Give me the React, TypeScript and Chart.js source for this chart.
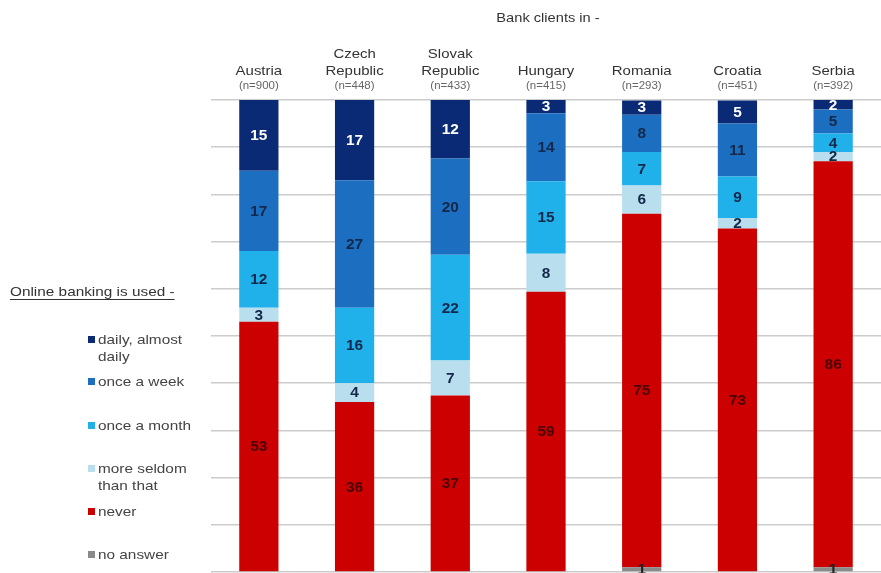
import React, { useEffect, useRef } from "react";
import { Chart, registerables } from "chart.js";

Chart.register(...registerables);

const countries = [["Austria"], ["Czech", "Republic"], ["Slovak", "Republic"], ["Hungary"], ["Romania"], ["Croatia"], ["Serbia"]];
const sampleSizes = ["(n=900)", "(n=448)", "(n=433)", "(n=415)", "(n=293)", "(n=451)", "(n=392)"];

const noAnswer = [0, 0, 0, 0, 1, 0, 1];
const never = [53, 36, 37.4, 59.4, 74.9, 72.8, 86];
const moreSeldom = [3, 4, 7.4, 8, 6, 2.2, 2];
const onceMonth = [12, 16, 22.4, 15.4, 7.1, 8.8, 3.9];
const onceWeek = [17, 27, 20.4, 14.4, 7.9, 11.2, 5.1];
const daily = [15, 17, 12.4, 2.8, 3, 4.9, 2];

const legendLabels = [["daily, almost", "daily"], ["once a week"], ["once a month"], ["more seldom", "than that"], ["never"], ["no answer"]];
const yTicks = [0, 10, 20, 30, 40, 50, 60, 70, 80, 90, 100];

const COLORS = {
  daily: "#0b2a76",
  week: "#1b6ec0",
  month: "#20b0ea",
  seldom: "#b9dfee",
  never: "#cc0000",
  na: "#8a8a8a",
};

const FONT = "'Liberation Sans', Arial, sans-serif";

function stretchText(ctx: CanvasRenderingContext2D, text: string, x: number, y: number, sx: number) {
  ctx.save();
  ctx.translate(x, y);
  ctx.scale(sx, 1);
  ctx.fillText(text, 0, 0);
  ctx.restore();
}

export default function App() {
  const ref = useRef<HTMLCanvasElement | null>(null);

  useEffect(() => {
    document.body.style.margin = "0";
    const canvas = ref.current;
    if (!canvas) return;

    const datasets = [
      { label: "no answer", data: noAnswer, backgroundColor: COLORS.na, textColor: "#222222" },
      { label: "never", data: never, backgroundColor: COLORS.never, textColor: "#4a0000" },
      { label: "more seldom than that", data: moreSeldom, backgroundColor: COLORS.seldom, textColor: "#13284a" },
      { label: "once a month", data: onceMonth, backgroundColor: COLORS.month, textColor: "#13284a" },
      { label: "once a week", data: onceWeek, backgroundColor: COLORS.week, textColor: "#13284a" },
      { label: "daily, almost daily", data: daily, backgroundColor: COLORS.daily, textColor: "#ffffff" },
    ];

    const legendColors = [COLORS.daily, COLORS.week, COLORS.month, COLORS.seldom, COLORS.never, COLORS.na];
    const legendY = [340, 382, 426, 469, 512, 555];

    const overlay = {
      id: "overlay",
      afterDatasetsDraw(chart: any) {
        const ctx = chart.ctx;
        ctx.save();
        // data labels
        ctx.font = `bold 14px ${FONT}`;
        ctx.textAlign = "center";
        ctx.textBaseline = "middle";
        chart.data.datasets.forEach((ds: any, di: number) => {
          const meta = chart.getDatasetMeta(di);
          meta.data.forEach((el: any, i: number) => {
            const v = Math.round(ds.data[i]);
            if (!v) return;
            const y = (el.y + el.base) / 2;
            ctx.fillStyle = ds.textColor;
            stretchText(ctx, String(v), el.x, y + 1, 1.1);
          });
        });

        // header
        ctx.fillStyle = "#333333";
        ctx.font = `12px ${FONT}`;
        stretchText(ctx, "Bank clients in -", 548, 19, 1.22);

        // category labels
        const xs = chart.scales.x;
        countries.forEach((lines, i) => {
          const x = xs.getPixelForValue(i);
          ctx.font = `13px ${FONT}`;
          ctx.fillStyle = "#333333";
          const n = lines.length;
          lines.forEach((ln, k) => {
            stretchText(ctx, ln, x, 71 - (n - 1 - k) * 17, 1.15);
          });
          ctx.font = `10px ${FONT}`;
          ctx.fillStyle = "#666666";
          stretchText(ctx, sampleSizes[i], x, 86, 1.15);
        });

        // legend title
        ctx.textAlign = "left";
        ctx.font = `13px ${FONT}`;
        ctx.fillStyle = "#333333";
        const title = "Online banking is used -";
        stretchText(ctx, title, 10, 292, 1.18);
        const w = ctx.measureText(title).width * 1.18;
        ctx.fillRect(10, 299, w, 1);

        // legend items
        legendLabels.forEach((lines, i) => {
          const y = legendY[i];
          ctx.fillStyle = legendColors[i];
          ctx.fillRect(88, y - 4, 7, 7);
          ctx.fillStyle = "#444444";
          ctx.font = `13px ${FONT}`;
          lines.forEach((ln, k) => {
            stretchText(ctx, ln, 98, y + k * 17, 1.18);
          });
        });
        ctx.restore();
      },
    };

    const chart = new Chart(canvas, {
      type: "bar",
      data: {
        labels: countries.map((c) => c.join(" ")),
        datasets: datasets as any,
      },
      options: {
        animation: false,
        responsive: false,
        maintainAspectRatio: false,
        layout: { padding: { left: 211, top: 100, right: 0, bottom: 1 } },
        plugins: { legend: { display: false }, tooltip: { enabled: false }, title: { display: false } },
        datasets: { bar: { barPercentage: 0.41, categoryPercentage: 1 } },
        scales: {
          x: {
            stacked: true,
            grid: { display: false },
            border: { display: false },
            ticks: { display: false },
            afterFit: (s: any) => { s.height = 0; },
          },
          y: {
            stacked: true,
            min: 0,
            max: 100,
            afterBuildTicks: (s: any) => { s.ticks = yTicks.map((v) => ({ value: v })); },
            grid: { color: "#cccccc", lineWidth: 1.5, drawTicks: false },
            border: { display: false },
            ticks: { display: false },
            afterFit: (s: any) => { s.width = 0; },
          },
        },
      } as any,
      plugins: [overlay],
    });

    return () => chart.destroy();
  }, []);

  return (
    <div style={{ position: "absolute", left: 0, top: 0, width: 881, height: 573, background: "#ffffff" }}>
      <canvas ref={ref} width={881} height={573} style={{ width: 881, height: 573, display: "block" }} />
    </div>
  );
}
